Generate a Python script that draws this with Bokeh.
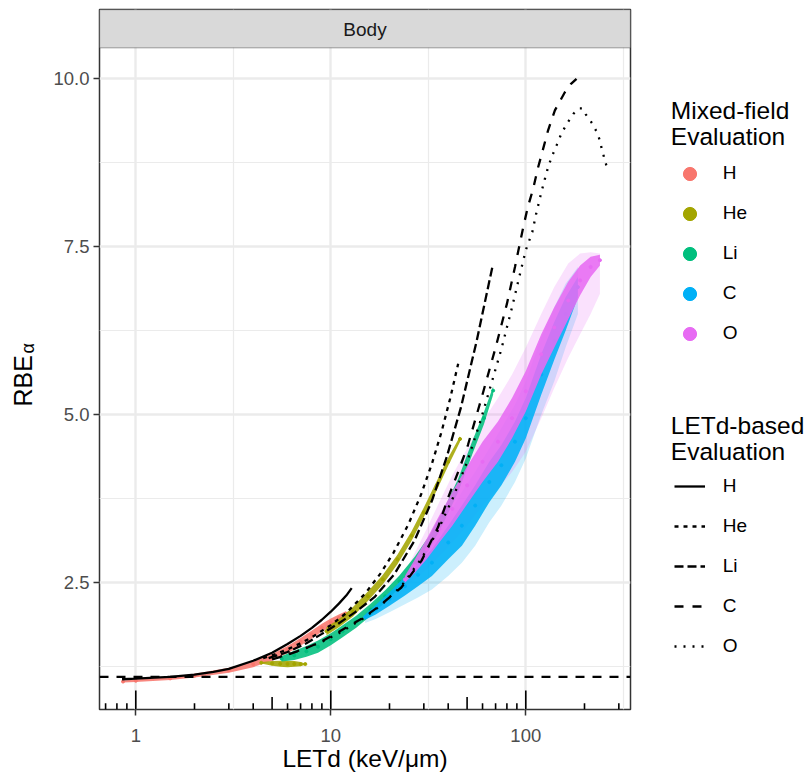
import math
from bokeh.plotting import figure
from bokeh.layouts import row
from bokeh.models import (Range1d, FixedTicker, Span, BoxAnnotation, Label, Legend,
                          LegendItem, NumeralTickFormatter)
from bokeh.embed import file_html
from bokeh.resources import INLINE

# ---------------- data ----------------
ions = ["H", "He", "Li", "C", "O"]
ion_colors = ["#F8766D", "#A3A500", "#00BF7D", "#00B0F6", "#E76BF3"]

# Mixed-field evaluation: dense point clouds, given as band limits per LETd
h_mf_let = [0.86, 1.0, 1.5, 2.0, 3.0, 4.0, 5.0, 6.0, 7.0, 8.0, 9.0, 10.0, 11.0, 12.0]
h_mf_lo = [1.015, 1.025, 1.055, 1.09, 1.16, 1.245, 1.34, 1.45, 1.565, 1.67, 1.77, 1.85, 1.92, 1.99]
h_mf_hi = [1.045, 1.06, 1.10, 1.145, 1.235, 1.33, 1.44, 1.56, 1.68, 1.79, 1.89, 1.97, 2.03, 2.08]

he_blob_let = [4.4, 5.0, 5.5, 6.0, 6.5, 7.0, 7.4]
he_blob_lo = [1.30, 1.265, 1.25, 1.245, 1.25, 1.26, 1.28]
he_blob_hi = [1.32, 1.335, 1.34, 1.34, 1.335, 1.32, 1.30]
he_mf_let = [9.5, 11, 13, 15.5, 18.5, 22, 26, 30, 35, 40, 46]
he_mf_lo = [1.72, 1.84, 2.0, 2.23, 2.48, 2.78, 3.13, 3.48, 3.88, 4.24, 4.6]
he_mf_hi = [1.84, 1.96, 2.14, 2.37, 2.62, 2.92, 3.27, 3.62, 4.02, 4.36, 4.68]

li_mf_let = [5.6, 6.5, 7.5, 8.6, 10, 11.5, 13.5, 16, 19, 22.5, 27, 32, 38, 45, 53, 61, 68]
li_mf_lo = [1.33, 1.35, 1.40, 1.46, 1.57, 1.69, 1.83, 2.01, 2.21, 2.43, 2.71, 3.0, 3.4, 3.85, 4.4, 4.86, 5.3]
li_mf_hi = [1.41, 1.49, 1.56, 1.64, 1.75, 1.87, 2.01, 2.19, 2.39, 2.61, 2.89, 3.2, 3.6, 4.05, 4.6, 5.04, 5.42]

c_mf_let = [15, 17, 20, 24, 28, 33, 40, 47, 55, 65, 75, 88, 100, 120, 140, 160, 185]
c_mf_lo = [1.95, 2.03, 2.16, 2.31, 2.45, 2.6, 2.85, 3.05, 3.35, 3.7, 3.95, 4.3, 4.65, 5.3, 5.82, 6.25, 6.75]
c_mf_hi = [2.03, 2.17, 2.36, 2.59, 2.79, 3.0, 3.35, 3.65, 3.95, 4.3, 4.55, 4.9, 5.25, 5.9, 6.38, 6.75, 7.05]
c_halo_lo = [1.9, 1.96, 2.06, 2.18, 2.28, 2.4, 2.6, 2.8, 3.05, 3.4, 3.65, 4.0, 4.35, 5.0, 5.5, 6.0, 6.5]
c_halo_hi = [2.06, 2.22, 2.45, 2.7, 2.92, 3.15, 3.5, 3.85, 4.15, 4.5, 4.8, 5.15, 5.5, 6.15, 6.6, 6.95, 7.2]

o_mf_let = [24, 27, 31, 36, 42, 50, 60, 72, 85, 100, 120, 140, 165, 190, 215, 240]
o_mf_lo = [2.5, 2.65, 2.85, 3.1, 3.35, 3.67, 4.0, 4.3, 4.65, 5.05, 5.6, 6.0, 6.42, 6.78, 7.05, 7.22]
o_mf_hi = [2.6, 2.85, 3.15, 3.5, 3.85, 4.23, 4.6, 4.9, 5.25, 5.65, 6.2, 6.6, 6.98, 7.22, 7.35, 7.38]
o_halo_lo = [2.45, 2.55, 2.7, 2.9, 3.1, 3.35, 3.65, 3.9, 4.15, 4.45, 4.95, 5.4, 5.85, 6.2, 6.5, 6.8]
o_halo_hi = [2.65, 2.95, 3.3, 3.7, 4.1, 4.5, 4.9, 5.25, 5.6, 6.0, 6.5, 6.9, 7.25, 7.4, 7.42, 7.4]

# LETd-based evaluation curves
h_let = [0.85, 1.0, 1.25, 1.5, 2.0, 2.5, 3.0, 4.0, 5.0, 6.0, 7.0, 8.0, 9.0, 10.0, 11.0, 12.0, 12.8]
h_rbe = [1.065, 1.075, 1.09, 1.10, 1.135, 1.175, 1.22, 1.34, 1.46, 1.59, 1.71, 1.83, 1.95, 2.07, 2.19, 2.31, 2.42]
he_let = [4.5, 5, 6, 7, 8, 10, 12, 15, 18, 21, 25, 29, 33, 37, 41, 45]
he_rbe = [1.38, 1.42, 1.51, 1.60, 1.69, 1.87, 2.05, 2.34, 2.64, 2.95, 3.37, 3.81, 4.27, 4.75, 5.25, 5.76]
li_let = [4.8, 6, 7.5, 9, 10.9, 13.3, 16.8, 21.2, 26.9, 33, 39.3, 46.5, 56, 67.5]
li_rbe = [1.38, 1.47, 1.6, 1.74, 1.89, 2.06, 2.29, 2.63, 3.13, 3.72, 4.37, 5.11, 6.1, 7.21]
c_let = [5.0, 6.0, 7.5, 9.0, 11.0, 14.3, 17.5, 23, 29.2, 35.5, 40, 45, 50.5, 59.3, 70, 80, 88, 97,
         102.4, 109, 115.6, 122, 130, 141, 158.6, 170, 182]
c_rbe = [1.36, 1.43, 1.53, 1.63, 1.77, 1.96, 2.14, 2.43, 2.83, 3.33, 3.77, 4.15, 4.55, 5.25, 6.0, 6.65,
         7.2, 7.79, 8.09, 8.36, 8.68, 8.93, 9.23, 9.53, 9.80, 9.92, 10.0]
o_let = [5.5, 7, 9, 11, 14.5, 18, 23, 29, 35, 42.4, 50, 58, 66.5, 75, 85, 92, 100, 108, 113, 119.6,
         125, 130, 135.5, 144.3, 153, 165.8, 175.6, 187, 195, 203, 218.6, 232, 240, 245, 253.8, 263]
o_rbe = [1.4, 1.5, 1.62, 1.75, 1.96, 2.16, 2.45, 2.85, 3.25, 3.77, 4.3, 4.87, 5.46, 5.98, 6.6, 7.02,
         7.45, 7.72, 7.99, 8.29, 8.5, 8.68, 8.83, 9.02, 9.2, 9.37, 9.48, 9.56, 9.56, 9.47, 9.34, 9.2,
         9.08, 8.96, 8.8, 8.64]

ref_rbe = 1.1
x_major = [1, 10, 100]
x_minor_grid = [10 ** 0.5, 10 ** 1.5, 10 ** 2.5]
y_major = [2.5, 5.0, 7.5, 10.0]
y_minor = [1.25, 3.75, 6.25, 8.75]
logtick_long = [1, 10, 100]
logtick_mid = [5, 50]
logtick_short = [0.7, 0.8, 0.9, 2, 3, 4, 6, 7, 8, 9, 20, 30, 40, 60, 70, 80, 90, 200, 300]

# ---------------- layout constants ----------------
W, H = 809, 772
LEFT_W = 50
X0, X1 = 0.6514, 344.3
Y0, Y1 = 0.6146, 11.031
STRIP_BOTTOM = 10.46
FW, FH = 531, 700
TOP, BORDER_L, BORDER_R = 9, 48, 2
BORDER_B = H - TOP - FH
MAIN_W = BORDER_L + FW + BORDER_R
FRAME_BOTTOM = TOP + FH          # side figures share this frame bottom in the row
px_per_y = FH / (Y1 - Y0)
FONT = "Liberation Sans"
GRID = "#EBEBEB"
DARK = "#333333"
NAN = float("nan")


def blank_figure(w, h):
    f = figure(width=w, height=h, x_range=Range1d(0, 1), y_range=Range1d(0, 1),
               min_border=0, x_axis_location=None, y_axis_location=None,
               output_backend="svg", toolbar_location=None)
    f.outline_line_color = None
    f.grid.visible = False
    f.background_fill_color = "white"
    f.border_fill_color = "white"
    return f


# ---------------- main panel ----------------
p = figure(x_axis_type="log", x_range=Range1d(X0, X1), y_range=Range1d(Y0, Y1),
           frame_width=FW, frame_height=FH, min_border_left=BORDER_L, min_border_right=BORDER_R,
           min_border_top=TOP, min_border_bottom=BORDER_B,
           output_backend="svg", toolbar_location=None)
p.background_fill_color = "white"
p.border_fill_color = "white"
p.outline_line_color = DARK
p.outline_line_width = 1.5

for ax in (p.xaxis[0], p.yaxis[0]):
    ax.axis_line_color = None
    ax.major_tick_out = 6
    ax.major_tick_in = 0
    ax.major_tick_line_color = DARK
    ax.major_tick_line_width = 1.5
    ax.minor_tick_line_color = None
    ax.major_label_text_font = FONT
    ax.major_label_text_font_size = "18.5px"
    ax.major_label_text_color = "#4D4D4D"
    ax.major_label_standoff = 4

p.xaxis.major_label_standoff = 13
p.xaxis.axis_label = "LETd (keV/μm)"
p.xaxis.axis_label_text_font = FONT
p.xaxis.axis_label_text_font_size = "24.5px"
p.xaxis.axis_label_text_font_style = "normal"
p.xaxis.axis_label_text_color = "black"
p.xaxis.axis_label_standoff = 0

p.xaxis.ticker = FixedTicker(ticks=x_major, minor_ticks=x_minor_grid)
p.xaxis.major_label_overrides = {1: "1", 10: "10", 100: "100"}
p.yaxis.ticker = FixedTicker(ticks=y_major, minor_ticks=y_minor)
p.yaxis.formatter = NumeralTickFormatter(format="0.0")

for g in (p.xgrid, p.ygrid):
    g.grid_line_color = GRID
    g.grid_line_width = 2.4
    g.minor_grid_line_color = GRID
    g.minor_grid_line_width = 1.2

# mixed-field clouds (faint halos, then dense cores)
p.varea(x=c_mf_let, y1=c_halo_lo, y2=c_halo_hi, fill_color=ion_colors[3], fill_alpha=0.2)
p.varea(x=o_mf_let, y1=o_halo_lo, y2=o_halo_hi, fill_color=ion_colors[4], fill_alpha=0.2)

bands = [
    (h_mf_let, h_mf_lo, h_mf_hi, 0),
    (he_blob_let, he_blob_lo, he_blob_hi, 1),
    (he_mf_let, he_mf_lo, he_mf_hi, 1),
    (li_mf_let, li_mf_lo, li_mf_hi, 2),
    (c_mf_let, c_mf_lo, c_mf_hi, 3),
    (o_mf_let, o_mf_lo, o_mf_hi, 4),
]
for xs, lo, hi, k in bands:
    p.varea(x=xs, y1=lo, y2=hi, fill_color=ion_colors[k], fill_alpha=0.88)
    mids = [(a + b) / 2 for a, b in zip(lo, hi)]
    p.scatter(x=xs, y=mids, size=3, color=ion_colors[k], alpha=1.0)

p.add_layout(Span(location=ref_rbe, dimension="width", line_color="black",
                  line_width=2.1, line_dash="9 8"))

line_dashes = ["solid", "4 5", "9 4", "9 9", "2 7"]
curves = [(h_let, h_rbe), (he_let, he_rbe), (li_let, li_rbe), (c_let, c_rbe), (o_let, o_rbe)]
for (xs, ys), dash in zip(curves, line_dashes):
    p.line(x=xs, y=ys, line_color="black", line_width=2.3, line_dash=dash)

for ticks, length_px in ((logtick_long, 19), (logtick_mid, 12.6), (logtick_short, 6.3)):
    p.segment(x0=ticks, x1=ticks, y0=[Y0] * len(ticks), y1=[Y0 + length_px / px_per_y] * len(ticks),
              line_color="black", line_width=1.6)

p.add_layout(BoxAnnotation(bottom=STRIP_BOTTOM, fill_color="#D9D9D9", fill_alpha=1.0,
                           line_color=DARK, line_width=1.5))
p.add_layout(Label(x=FW / 2, y=FH - 19.5, x_units="screen", y_units="screen", text="Body",
                   text_align="center", text_baseline="middle", text_font=FONT,
                   text_font_size="19px", text_color="#1A1A1A"))

# ---------------- y title (left strip) ----------------
left = blank_figure(LEFT_W, H)
left.add_layout(Label(x=22, y=FRAME_BOTTOM - 408, x_units="screen", y_units="screen", text="RBE",
                      angle=math.pi / 2, text_align="left", text_baseline="alphabetic",
                      text_font=FONT, text_font_size="25px", text_color="black"))
left.add_layout(Label(x=27, y=FRAME_BOTTOM - 355, x_units="screen", y_units="screen", text="α",
                      angle=math.pi / 2, text_align="left", text_baseline="alphabetic",
                      text_font=FONT, text_font_size="18px", text_color="black"))

# ---------------- legends (right strip) ----------------
RIGHT_X = LEFT_W + MAIN_W
right = blank_figure(W - RIGHT_X, H)
pt_r = [right.scatter(x=[NAN], y=[NAN], size=13, color=c, alpha=1.0) for c in ion_colors]
ln_r = [right.line(x=[NAN, NAN], y=[NAN, NAN], line_color="black", line_width=2.3, line_dash=d)
        for d in line_dashes]

for txt, yy in (("Mixed-field", 111.7), ("Evaluation", 138.3), ("LETd-based", 426.5), ("Evaluation", 453)):
    right.add_layout(Label(x=669.3 - RIGHT_X, y=FRAME_BOTTOM - yy, x_units="screen", y_units="screen",
                           text=txt, text_align="left", text_baseline="alphabetic", text_font=FONT,
                           text_font_size="24.5px", text_color="black"))

leg1 = Legend(items=[LegendItem(label=ions[k], renderers=[pt_r[k]]) for k in range(5)],
              location=(671.8 - RIGHT_X, FRAME_BOTTOM - 351.5), orientation="vertical",
              glyph_width=33, glyph_height=33, spacing=7, padding=0, margin=0,
              label_standoff=17, label_height=24,
              label_text_font=FONT, label_text_font_size="19px", label_text_color="black",
              background_fill_alpha=0, border_line_color=None)
leg2 = Legend(items=[LegendItem(label=ions[k], renderers=[ln_r[k]]) for k in range(5)],
              location=(672.7 - RIGHT_X, FRAME_BOTTOM - 660.3), orientation="vertical",
              glyph_width=31, glyph_height=24, spacing=16, padding=0, margin=0,
              label_standoff=18, label_height=24,
              label_text_font=FONT, label_text_font_size="19px", label_text_color="black",
              background_fill_alpha=0, border_line_color=None)
right.add_layout(leg1)
right.add_layout(leg2)

layout = row(left, p, right)
open("out.html", "w").write(file_html(layout, INLINE))
